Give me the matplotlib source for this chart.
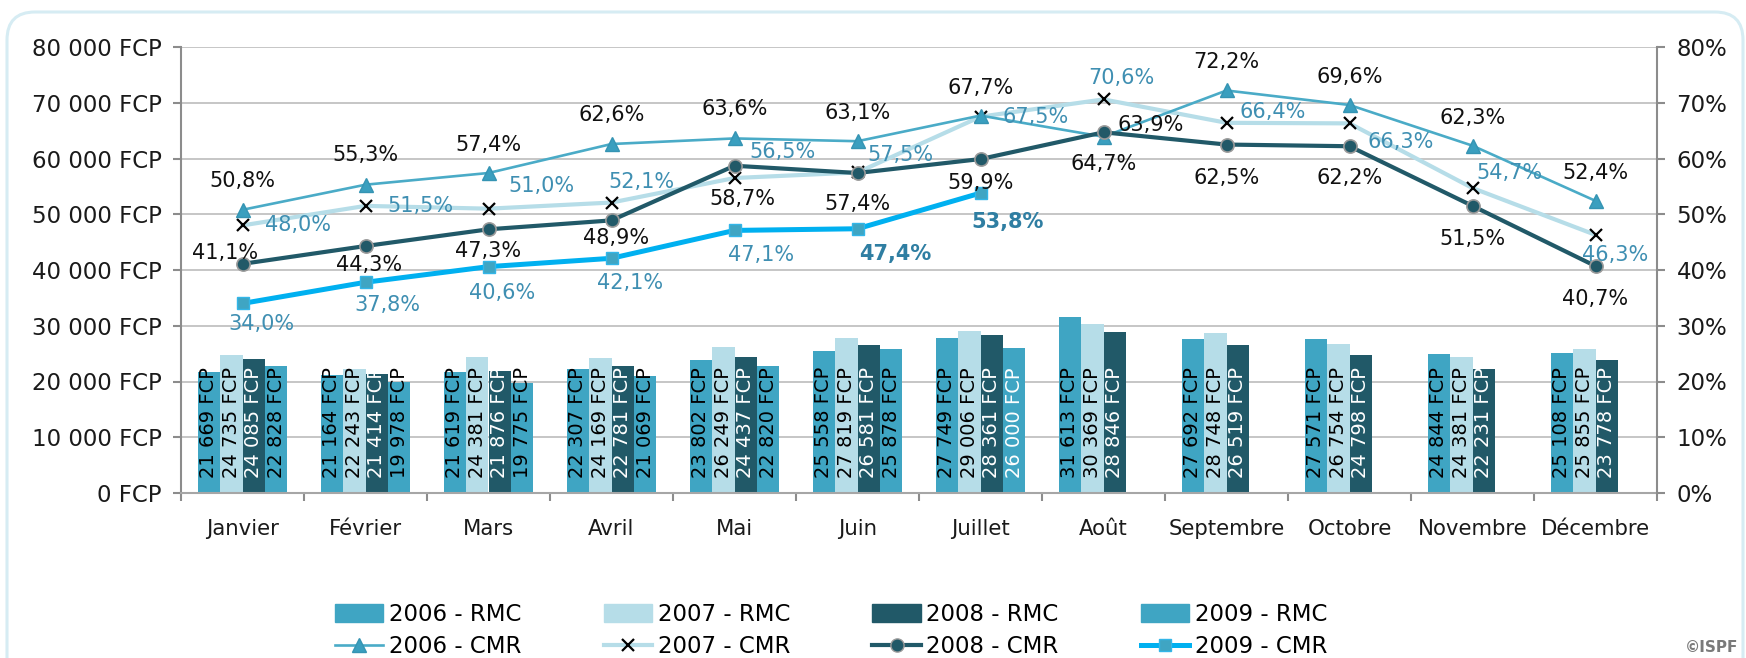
import matplotlib
matplotlib.use("Agg")
from matplotlib import pyplot as plt
from matplotlib.patches import FancyBboxPatch, Patch
from matplotlib.lines import Line2D
from matplotlib.transforms import IdentityTransform

plt.rcParams['font.family'] = ['DejaVu Sans']

months = ['Janvier', 'Février', 'Mars', 'Avril', 'Mai', 'Juin', 'Juillet',
          'Août', 'Septembre', 'Octobre', 'Novembre', 'Décembre']

# RMC (FCP), bars
rmc_2006 = [21669, 21164, 21619, 22307, 23802, 25558, 27749, 31613, 27692, 27571, 24844, 25108]
rmc_2007 = [24735, 22243, 24381, 24169, 26249, 27819, 29006, 30369, 28748, 26754, 24381, 25855]
rmc_2008 = [24085, 21414, 21876, 22781, 24437, 26581, 28361, 28846, 26519, 24798, 22231, 23778]
rmc_2009 = [22828, 19978, 19775, 21069, 22820, 25878, 26000]

# CMR (%), lines
cmr_2006 = [50.8, 55.3, 57.4, 62.6, 63.6, 63.1, 67.7, 63.9, 72.2, 69.6, 62.3, 52.4]
cmr_2007 = [48.0, 51.5, 51.0, 52.1, 56.5, 57.5, 67.5, 70.6, 66.4, 66.3, 54.7, 46.3]
cmr_2008 = [41.1, 44.3, 47.3, 48.9, 58.7, 57.4, 59.9, 64.7, 62.5, 62.2, 51.5, 40.7]
cmr_2009 = [34.0, 37.8, 40.6, 42.1, 47.1, 47.4, 53.8]

y_ticks = [0, 10000, 20000, 30000, 40000, 50000, 60000, 70000, 80000]
y_labels = ['0 FCP', '10 000 FCP', '20 000 FCP', '30 000 FCP', '40 000 FCP',
            '50 000 FCP', '60 000 FCP', '70 000 FCP', '80 000 FCP']
y2_ticks = [0, 10, 20, 30, 40, 50, 60, 70, 80]
y2_labels = ['0%', '10%', '20%', '30%', '40%', '50%', '60%', '70%', '80%']

# label placement (pixel offsets from the marker, y up)
off06 = [(0, 29), (0, 30), (0, 28), (0, 29), (0, 29), (0, 28), (0, 28), (47, 12), (0, 28), (0, 28), (0, 28), (0, 28)]
off07 = [(55, 0), (55, 0), (53, 23), (30, 21), (48, 26), (43, 17), (55, 0), (18, 21), (46, 11), (51, -19), (37, 15), (20, -20)]
off08 = [(-17, 11), (4, -19), (0, -22), (5, -18), (8, -33), (0, -31), (0, -24), (0, -32), (0, -33), (0, -32), (0, -33), (0, -33)]
off09 = [(19, -21), (22, -23), (14, -26), (19, -25), (27, -25), (38, -25), (27, -29)]

c06 = '#3fa5c3'
c07 = '#b6dde8'
c08 = '#215968'
c09 = '#3fa5c3'
l06 = '#4aabc7'
l09 = '#00b0f0'
lab_blue = '#3f8fb2'
lab_bold = '#2f7ea2'
grey = '#8c8c8c'


def fcp(v):
    return '{:,}'.format(v).replace(',', ' ') + ' FCP'


def pct(v):
    return '{:.1f}'.format(v).replace('.', ',') + '%'


fig = plt.figure(figsize=(17.46, 6.58), dpi=100)
W, H = 1746, 658
ax = fig.add_axes([181 / W, 1 - 493 / H, (1657 - 181) / W, (493 - 47) / H])

w = 0.182
xc = [i + 0.5 for i in range(12)]
series = [(rmc_2006, c06, 'black'), (rmc_2007, c07, 'black'),
          (rmc_2008, c08, 'white'), (rmc_2009, c09, 'black')]
for k, (vals, col, tcol) in enumerate(series):
    xs = [xc[i] + (k - 1.5) * w for i in range(len(vals))]
    ax.bar(xs, vals, width=w, color=col, zorder=2)
    for i, (x, v) in enumerate(zip(xs, vals)):
        tc = tcol
        if k == 3 and i == 6:
            tc = 'white'
        ax.annotate(fcp(v), (x, 0), xytext=(0, 15), textcoords='offset pixels',
                    rotation=90, ha='center', va='bottom', fontsize=14,
                    color=tc, zorder=3)

ax.set_xlim(0, 12)
ax.set_ylim(0, 80000)
ax.set_yticks(y_ticks)
ax.set_yticklabels(y_labels, fontsize=16.5, color='#1a1a1a')
ax.set_xticks(xc)
ax.set_xticklabels(months, fontsize=15.3, color='#1a1a1a')
ax.set_xticks(range(13), minor=True)
ax.tick_params(axis='x', which='major', length=0, pad=19)
ax.tick_params(axis='x', which='minor', length=6, width=1.5, color=grey)
ax.tick_params(axis='y', length=6, width=1.5, color=grey, pad=8)
ax.yaxis.grid(True, color='#c6c6c6', lw=1.4, zorder=0)
ax.set_axisbelow(True)
for s in ['top', 'right']:
    ax.spines[s].set_visible(False)
ax.spines['left'].set_color(grey)
ax.spines['left'].set_linewidth(1.5)
ax.spines['bottom'].set_color('#a6a6a6')
ax.spines['bottom'].set_linewidth(1.5)

ax2 = ax.twinx()
ax2.set_ylim(0, 80)
ax2.set_yticks(y2_ticks)
ax2.set_yticklabels(y2_labels, fontsize=16.5, color='#1a1a1a')
ax2.tick_params(axis='y', length=6, width=1.5, color=grey, pad=8)
for s in ['top', 'left', 'bottom']:
    ax2.spines[s].set_visible(False)
ax2.spines['right'].set_color(grey)
ax2.spines['right'].set_linewidth(1.5)

ax2.plot(xc, cmr_2007, color=c07, lw=3.0, marker='x', ms=9, mec='black', mew=1.6, zorder=3)
ax2.plot(xc, cmr_2006, color=l06, lw=1.9, marker='^', ms=10, mfc='#3a9fbf', mec='#3594b3', zorder=4)
ax2.plot(xc, cmr_2008, color=c08, lw=3.0, marker='o', ms=9.5, mfc=c08, mec='#9a9a9a', mew=1.2, zorder=5)
ax2.plot(xc[:len(cmr_2009)], cmr_2009, color=l09, lw=3.6, marker='s', ms=8, mfc='#3fa5c3', mec='#33b6e8', mew=1, zorder=6)

for vals, offs, col in [(cmr_2006, off06, '#111111'), (cmr_2007, off07, lab_blue),
                        (cmr_2008, off08, '#111111'), (cmr_2009, off09, lab_blue)]:
    for i, (v, o) in enumerate(zip(vals, offs)):
        bold = vals is cmr_2009 and i >= 5
        ax2.annotate(pct(v), (xc[i], v), xytext=o, textcoords='offset pixels',
                     ha='center', va='center', fontsize=15,
                     color=lab_bold if bold else col,
                     fontweight='bold' if bold else 'normal', zorder=7)

handles = [
    Patch(color=c06), Line2D([], [], color=l06, lw=1.9, marker='^', ms=10, mfc='#3a9fbf', mec='#3594b3'),
    Patch(color=c07), Line2D([], [], color=c07, lw=3.0, marker='x', ms=9, mec='black', mew=1.6),
    Patch(color=c08), Line2D([], [], color=c08, lw=3.0, marker='o', ms=9.5, mfc=c08, mec='#9a9a9a'),
    Patch(color=c09), Line2D([], [], color=l09, lw=3.6, marker='s', ms=8, mfc='#3fa5c3', mec='#33b6e8'),
]
labels = ['2006 - RMC', '2006 - CMR', '2007 - RMC', '2007 - CMR',
          '2008 - RMC', '2008 - CMR', '2009 - RMC', '2009 - CMR']
fig.legend(handles, labels, ncol=4, loc='upper left', bbox_to_anchor=(335 / W, 1 - 603 / H),
           frameon=False, fontsize=16.5, handlelength=2.1, handleheight=0.8,
           handletextpad=0.25, columnspacing=3.6, labelspacing=0.4,
           borderpad=0, borderaxespad=0)

# rounded frame around the chart
frame = FancyBboxPatch((7, -40), 1736, 686, boxstyle='round,pad=0,rounding_size=28',
                       transform=IdentityTransform(), fill=False, ec='#d6ecf3', lw=2.2)
fig.patches.append(frame)
fig.text(1738 / W, 1 - 647 / H, '©ISPF', fontsize=11, color='#7a7a7a',
         fontweight='bold', ha='right', va='center')

fig.savefig('out.png', dpi=100)
